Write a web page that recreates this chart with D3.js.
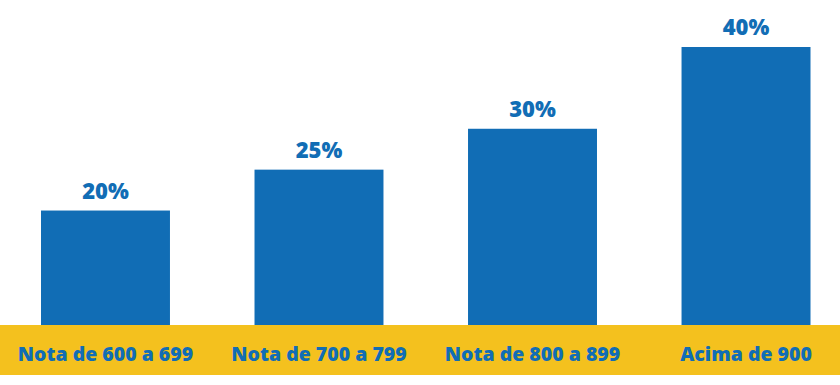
<!DOCTYPE html>
<html>
<head>
<meta charset="utf-8">
<script src="https://cdn.jsdelivr.net/npm/d3@7"></script>
<style>
  html, body { margin: 0; padding: 0; background: #ffffff; }
  svg { display: block; }
  text { font-family: "Open Sans", sans-serif; font-weight: 800; }
</style>
</head>
<body>
<svg id="chart" width="840" height="385"></svg>
<script>
const categories = ["Nota de 600 a 699", "Nota de 700 a 799", "Nota de 800 a 899", "Acima de 900"];
const values = [20, 25, 30, 40];
const valueLabels = ["20%", "25%", "30%", "40%"];

const W = 840, H = 385;
const blue = "#116db5";
const yellow = "#f4c11e";
const baseY = 325, bandBottom = 375;

const svg = d3.select("#chart");

const x = d3.scaleBand()
  .domain(categories)
  .range([41, 810.5])
  .paddingInner(0.396)
  .paddingOuter(0);

const y = d3.scaleLinear()
  .domain([6, 40])
  .range([baseY, 47]);

// yellow axis band
svg.append("rect")
  .attr("x", 0).attr("y", baseY)
  .attr("width", W).attr("height", bandBottom - baseY)
  .attr("fill", yellow);

svg.selectAll("rect.bar")
  .data(values)
  .join("rect")
  .attr("class", "bar")
  .attr("x", (d, i) => x(categories[i]))
  .attr("width", x.bandwidth())
  .attr("y", d => y(d))
  .attr("height", d => baseY - y(d))
  .attr("fill", blue);

svg.selectAll("text.val")
  .data(values)
  .join("text")
  .attr("class", "val")
  .attr("x", (d, i) => x(categories[i]) + x.bandwidth() / 2)
  .attr("y", d => y(d) - 12)
  .attr("text-anchor", "middle")
  .attr("font-size", 22)
  .attr("fill", blue)
  .text((d, i) => valueLabels[i]);

svg.selectAll("text.cat")
  .data(categories)
  .join("text")
  .attr("class", "cat")
  .attr("x", d => x(d) + x.bandwidth() / 2)
  .attr("y", 361)
  .attr("text-anchor", "middle")
  .attr("font-size", 19.5)
  .attr("fill", blue)
  .text(d => d);
</script>
</body>
</html>
